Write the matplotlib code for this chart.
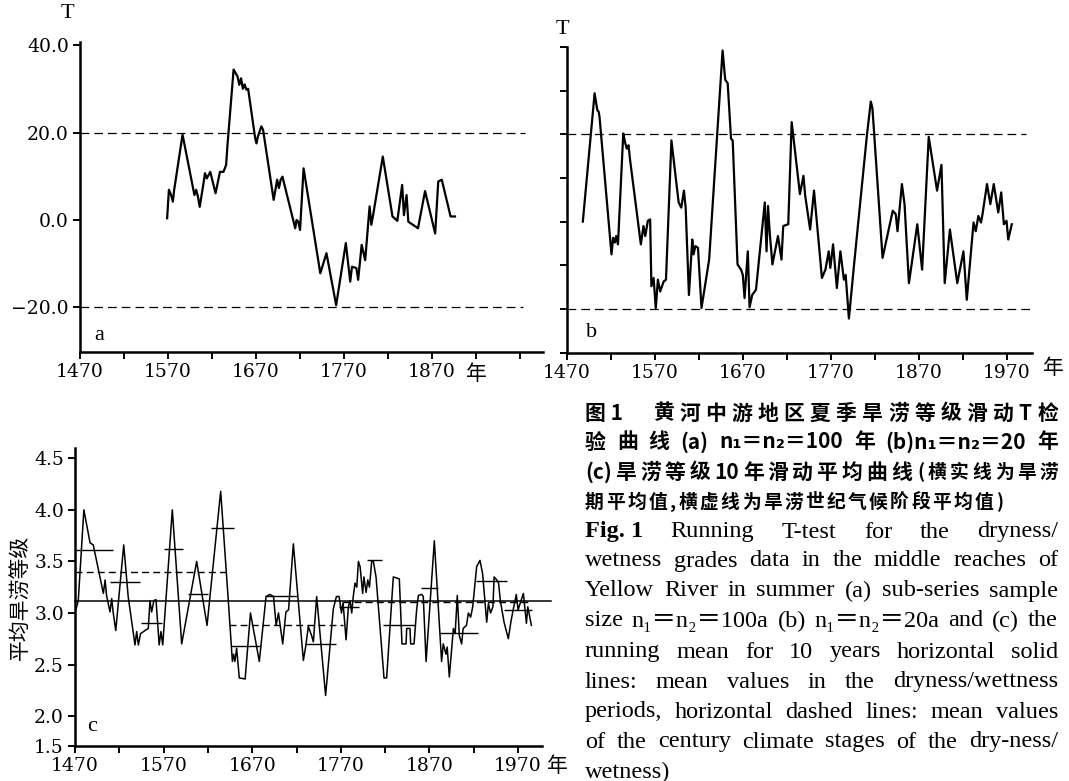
import matplotlib
matplotlib.use('Agg')
import matplotlib.pyplot as plt

# 图1 (a) 滑动T检验 n1=n2=100
years_a = [1569, 1571, 1573.5, 1575.5, 1577, 1586.5, 1600, 1602, 1604, 1606, 1610, 1612, 1614, 1618,
           1624, 1629, 1633, 1636, 1637.5, 1644.5, 1649, 1651, 1653, 1655, 1657, 1659, 1661,
           1669, 1670.5, 1672, 1676, 1678, 1690, 1694, 1696, 1698, 1700, 1714.5, 1716, 1718, 1720,
           1724, 1743, 1750, 1761, 1772, 1777, 1779, 1784, 1786, 1790, 1794, 1799, 1801, 1803,
           1814, 1825, 1830.5, 1836, 1838, 1841, 1843, 1854, 1862, 1873.5, 1877, 1881, 1891, 1896]
t_a = [0.4, 6.9, 5.7, 4.2, 6.9, 19.5, 5.7, 6.9, 5.3, 3.0, 8.0, 10.7, 9.5, 11.0,
       6.1, 11.0, 11.0, 12.6, 17.0, 34.4, 32.8, 30.9, 32.4, 30.0, 31.0, 29.8, 30.0,
       18.7, 17.5, 19.0, 21.4, 20.6, 4.6, 9.2, 7.3, 9.2, 9.9, -1.9, 0.0, -0.4, -2.3,
       11.8, -12.2, -7.6, -19.5, -5.3, -14.1, -10.7, -11.0, -13.7, -5.7, -9.2, 3.1, -1.1, 1.1,
       14.5, 0.8, -0.2, 8.0, 1.1, 5.7, -0.4, -1.9, 6.6, -3.1, 8.8, 9.2, 0.8, 0.8]

# (b) n1=n2=20
years_b = [1488, 1501.4, 1504.5, 1506, 1507, 1520.6, 1522.5, 1524.4, 1526, 1528,
           1534, 1536, 1538, 1540, 1541.6, 1554, 1557, 1559, 1562, 1564.6,
           1566, 1568.5, 1571, 1573.4, 1576, 1580, 1582.6, 1588.8, 1597, 1600, 1603, 1605,
           1608.7, 1612.5, 1614, 1616, 1619, 1623, 1631.7, 1647, 1650, 1652.8, 1656.6, 1658.5,
           1664, 1668, 1670, 1672, 1675.7, 1677.7, 1680.7, 1685, 1695, 1697, 1698.7, 1700.6,
           1703.7, 1710, 1714, 1716, 1721.7, 1725.6, 1735, 1739, 1741, 1746.6, 1751,
           1760, 1764, 1767.7, 1769.6, 1772.7, 1777, 1781, 1785, 1787, 1790.7, 1796.4,
           1811, 1815.6, 1817.5, 1821, 1829, 1840.6, 1844, 1846, 1848, 1851, 1854, 1859,
           1868.5, 1874, 1881.5, 1891, 1896, 1899.7, 1905.6, 1914, 1921, 1924.8,
           1932.5, 1935, 1938, 1941, 1942.7, 1947.8, 1951.6, 1955.5, 1960.6, 1964,
           1967, 1970, 1972, 1976]
t_b = [0.0, 29.4, 25.5, 25.2, 24.0, -7.5, -3.7, -4.8, -3.3, -5.2,
       20.2, 18.2, 16.7, 17.5, 14.4, -5.2, -1.0, -3.3, 0.2, 0.5,
       -14.8, -12.9, -19.8, -13.3, -16.0, -13.7, -13.3, 18.6, 4.4, 3.2, 7.1, 3.2,
       -16.8, -4.1, -7.5, -5.6, -6.0, -19.8, -8.7, 39.2, 32.5, 31.7, 19.0, 18.6,
       -9.8, -11.0, -12.2, -17.5, -6.8, -19.6, -16.8, -15.6, 4.4, -6.8, 3.6, -2.5,
       -9.8, -3.3, -8.7, -1.0, -0.6, 22.8, 6.3, 10.5, 5.9, -1.8, 7.1,
       -12.9, -11.0, -6.8, -10.6, -5.2, -15.2, -6.8, -13.3, -12.2, -22.2, -10.2,
       19.4, 27.5, 25.9, 15.5, -8.3, 2.5, 1.7, -2.2, 2.1, 8.6, 4.0, -14.1,
       -0.6, -11.0, 19.4, 7.1, 13.0, -14.1, -1.8, -14.1, -6.8, -17.9,
       -0.2, -2.2, 1.3, -0.2, 1.7, 8.6, 4.0, 8.6, 2.1, 6.7,
       -0.6, 0.2, -4.1, -0.6]
t_crit = 20.0

# (c) 旱涝等级 10 年滑动平均
years_c = [1470, 1473.7, 1480, 1487, 1490.6, 1502, 1504, 1505.6, 1509.5, 1511.4, 1513, 1516,
           1525, 1530, 1537.7, 1539.6, 1541.5, 1544, 1549, 1552.7, 1554.6, 1556.5, 1559, 1561.4,
           1565, 1567, 1569, 1579.8, 1590.4, 1607.3, 1619, 1634.4, 1643, 1647.6, 1649, 1650.5,
           1652.4, 1655.4, 1662, 1668, 1678, 1685.6, 1690, 1694, 1697, 1699.6, 1701.5, 1704.4,
           1708, 1711, 1716.4, 1727.7, 1730.6, 1733.3, 1737, 1739, 1742.7, 1752.8, 1761.5, 1765,
           1768, 1770.7, 1772.5, 1775.9, 1778.5, 1780.4, 1782.3, 1784, 1786, 1788, 1789.8, 1791.7,
           1794.6, 1796, 1798.5, 1800.4, 1802.3, 1804.8, 1806.7, 1809.7, 1818.7, 1821.7, 1829.2, 1836,
           1839, 1843.6, 1844.3, 1848, 1848.8, 1852.6, 1855.5, 1857.5, 1861.2, 1863, 1866.2, 1875.5,
           1883.7, 1885.6, 1888.6, 1890, 1892.4, 1897, 1899, 1901.4, 1903.7, 1906.3, 1908, 1911.8,
           1913.9, 1916.5, 1918.8, 1923.3, 1927, 1930, 1934.6, 1936.5, 1939, 1941.6, 1943, 1946,
           1948, 1950, 1954.2, 1959, 1961.8, 1964, 1968, 1970, 1976, 1979.4, 1981, 1985]
grade_c = [3.00, 3.12, 4.00, 3.68, 3.66, 3.19, 3.32, 3.17, 3.01, 3.14, 3.01, 2.83,
           3.66, 3.16, 2.69, 2.82, 2.69, 2.80, 2.83, 2.85, 3.12, 3.01, 3.12, 3.13,
           2.69, 2.82, 2.69, 4.00, 2.70, 3.50, 2.88, 4.18, 3.12, 2.53, 2.60, 2.53,
           2.66, 2.37, 2.36, 3.00, 2.53, 3.16, 3.18, 3.16, 2.88, 3.00, 2.88, 2.70,
           3.01, 3.03, 3.67, 2.54, 2.69, 2.87, 2.78, 2.72, 3.16, 2.20, 3.04, 3.16,
           3.16, 3.00, 3.10, 2.74, 3.06, 3.12, 3.00, 3.16, 3.29, 3.25, 3.50, 3.45,
           3.19, 3.35, 3.20, 3.32, 3.25, 3.50, 3.50, 3.35, 2.37, 2.37, 3.35, 3.33,
           2.70, 2.70, 2.85, 2.85, 2.70, 2.70, 3.03, 3.17, 3.18, 3.16, 2.53, 3.70,
           2.53, 2.70, 2.60, 2.67, 2.38, 2.85, 2.80, 3.17, 2.78, 2.70, 2.85, 2.88,
           3.00, 2.96, 3.06, 3.45, 3.51, 3.38, 2.91, 3.09, 3.00, 3.06, 3.35, 3.32,
           3.29, 3.12, 2.91, 2.75, 2.91, 3.01, 3.18, 3.03, 3.19, 2.90, 3.06, 2.88]
grade_mean = 3.12

# 横虚线: 旱涝世纪气候阶段平均值
stage_start = [1470, 1644, 1772]
stage_end = [1642, 1772, 1985]
stage_val = [3.40, 2.88, 3.11]

# 横实线: 旱涝期平均值
period_start = [1471, 1509, 1545, 1570, 1598, 1623, 1646, 1684, 1729, 1768, 1799, 1818, 1861, 1882, 1923, 1954]
period_end = [1513, 1543, 1568, 1592, 1620, 1649, 1680, 1722, 1765, 1790, 1816, 1854, 1880, 1925, 1957, 1986]
period_val = [3.61, 3.30, 2.90, 3.62, 3.18, 3.82, 2.68, 3.16, 2.70, 3.06, 3.51, 2.88, 3.24, 2.81, 3.31, 3.03]

year_ticks = list(range(1470, 1971, 50))

W, H = 1069, 781
plt.rcParams['font.family'] = ['DejaVu Serif']
plt.rcParams['axes.linewidth'] = 1.8
cjk = ['Noto Sans CJK SC', 'DejaVu Sans']
serif = ['Liberation Serif', 'DejaVu Serif', 'Noto Sans CJK SC']

fig = plt.figure(figsize=(W / 100, H / 100), dpi=100)


def px_axes(left, top, right, bottom):
    ax = fig.add_axes([left / W, 1 - bottom / H, (right - left) / W, (bottom - top) / H])
    ax.spines['top'].set_visible(False)
    ax.spines['right'].set_visible(False)
    ax.tick_params(direction='out', length=5, width=1.4, labelsize=13.5, pad=3)
    return ax


def year_labels(last):
    return [str(y) if (y - 1470) % 100 == 0 and y <= last else '' for y in year_ticks]


dash = (0, (7, 4))

# ---- (a) ----
ax_a = px_axes(80, 42, 543, 352)
ax_a.plot(years_a, t_a, color='black', lw=1.6)
ax_a.plot([1470, 1975], [t_crit, t_crit], color='black', lw=0.9, ls=dash)
ax_a.plot([1470, 1973], [-t_crit, -t_crit], color='black', lw=0.9, ls=dash)
ax_a.set_xlim(1470, 1996)
ax_a.set_ylim(-30.2, 40.7)
ax_a.set_xticks(year_ticks)
labels_a = year_labels(1870)
labels_a[year_ticks.index(1920)] = '年'
ax_a.set_xticklabels(labels_a)
ax_a.get_xticklabels()[year_ticks.index(1920)].set_family(cjk)
ax_a.get_xticklabels()[year_ticks.index(1920)].set_fontsize(15)
ax_a.set_yticks([40, 20, 0, -20])
ax_a.set_yticklabels(['40.0', '20.0', '0.0', '−20.0'])
ax_a.text(0.03, 0.04, 'a', transform=ax_a.transAxes, fontsize=16, family=serif)
fig.text(67 / W, 1 - 14 / H, 'T', fontsize=16, family=serif, ha='center', va='center')

# ---- (b) ----
ax_b = px_axes(567, 47, 1032, 352.6)
ax_b.plot(years_b, t_b, color='black', lw=1.6)
ax_b.plot([1470, 1992], [t_crit, t_crit], color='black', lw=0.9, ls=dash)
ax_b.plot([1470, 1999], [-t_crit, -t_crit], color='black', lw=0.9, ls=dash)
ax_b.set_xlim(1470, 1999)
ax_b.set_ylim(-30, 40)
ax_b.set_xticks(year_ticks)
ax_b.set_xticklabels(year_labels(1970))
ax_b.set_yticks(range(-30, 41, 10))
ax_b.set_yticklabels([])
ax_b.text(0.04, 0.05, 'b', transform=ax_b.transAxes, fontsize=16, family=serif)
fig.text(562 / W, 1 - 29 / H, 'T', fontsize=16, family=serif, ha='center', va='center')
fig.text(1053 / W, 1 - 368 / H, '年', fontsize=15, family=cjk, ha='center', va='center')

# ---- (c) ----
ax_c = px_axes(75, 448, 542, 746)
ax_c.plot(years_c, grade_c, color='black', lw=1.1)
ax_c.plot([1470, 2007], [grade_mean, grade_mean], color='black', lw=1.1, clip_on=False)
ax_c.hlines(stage_val, stage_start, stage_end, colors='black', lw=1.0, linestyles=[(0, (5, 3))])
ax_c.hlines(period_val, period_start, period_end, colors='black', lw=1.0)
ax_c.set_xlim(1470, 1997)
ax_c.set_ylim(1.71, 4.6)
ax_c.set_xticks(year_ticks)
ax_c.set_xticklabels(year_labels(1970))
ax_c.set_yticks([1.71, 2.0, 2.5, 3.0, 3.5, 4.0, 4.5])
ax_c.set_yticklabels(['1.5', '2.0', '2.5', '3.0', '3.5', '4.0', '4.5'])
ax_c.set_ylabel('平均旱涝等级', family=cjk, fontsize=15, labelpad=2)
ax_c.text(0.025, 0.05, 'c', transform=ax_c.transAxes, fontsize=16, family=serif)
fig.text(557 / W, 1 - 766 / H, '年', fontsize=15, family=cjk, ha='center', va='center')

# ---- caption ----
renderer = fig.canvas.get_renderer()


def justify(words, y, x0=585, x1=1058, bold_first=False, **kw):
    texts = [fig.text(0, 1 - y / H, w, va='center', **kw) for w in words]
    if bold_first:
        texts[0].set_weight('bold')
    widths = [t.get_window_extent(renderer).width for t in texts]
    gap = (x1 - x0 - sum(widths)) / max(len(words) - 1, 1)
    x = x0
    for t, w in zip(texts, widths):
        t.set_x(x / W)
        x += w + gap


zh_big = dict(family=cjk, fontsize=15, weight='bold')
zh_small = dict(family=cjk, fontsize=13.5, weight='bold')
fig.text(585 / W, 1 - 413 / H, '图 1', va='center', **zh_big)
justify(list('黄河中游地区夏季旱涝等级滑动') + ['T', '检'], 413, x0=653, **zh_big)
justify(list('验曲线') + ['(a)', 'n₁＝n₂＝100', '年', '(b)n₁＝n₂＝20', '年'], 442, **zh_big)
justify(['(c)'] + list('旱涝等级') + ['10'] + list('年滑动平均曲线'), 472, x1=912, **zh_big)
justify(list('(横实线为旱涝'), 472, x0=917, **zh_small)
justify(list('期平均值,横虚线为旱涝世纪气候阶段平均值)'), 502, x1=1003, **zh_small)

en = dict(family=serif, fontsize=17.5)
en_lines = [
    'Fig. 1 Running T-test for the dryness/',
    'wetness grades data in the middle reaches of',
    'Yellow River in summer (a) sub-series sample',
    'size n₁＝n₂＝100a (b) n₁＝n₂＝20a and (c) the',
    'running mean for 10 years horizontal solid',
    'lines: mean values in the dryness/wettness',
    'periods, horizontal dashed lines: mean values',
    'of the century climate stages of the dry-ness/',
]
en_y = [532, 561, 591, 621, 652, 682, 712, 742]
for i, (line, y) in enumerate(zip(en_lines, en_y)):
    words = line.split(' ')
    if i == 0:
        words = ['Fig. 1'] + words[2:]
    justify(words, y, bold_first=(i == 0), **en)
fig.text(585 / W, 1 - 772 / H, 'wetness)', va='center', **en)

fig.savefig('out.png', dpi=100)
